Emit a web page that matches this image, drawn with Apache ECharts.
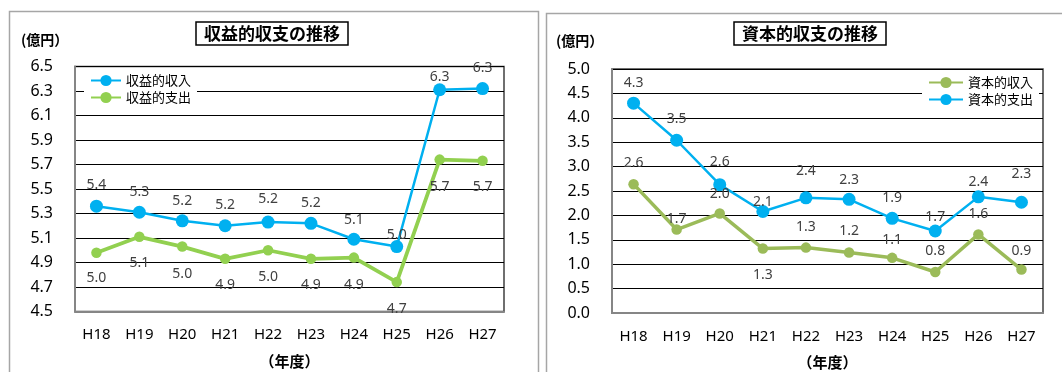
<!DOCTYPE html>
<html>
<head>
<meta charset="utf-8">
<script src="https://cdn.jsdelivr.net/npm/echarts@6/dist/echarts.min.js"></script>
<style>
html, body { margin: 0; padding: 0; background: #fff; }
#c { width: 1062px; height: 372px; }
</style>
</head>
<body>
<div id="c"></div>
<script>
// Fiscal years (category axis)
const years = ['H18', 'H19', 'H20', 'H21', 'H22', 'H23', 'H24', 'H25', 'H26', 'H27'];

// 収益的収支 (億円)
const revenueIncome  = [5.36, 5.31, 5.24, 5.20, 5.23, 5.22, 5.09, 5.03, 6.31, 6.32];
const revenueExpense = [4.98, 5.11, 5.03, 4.93, 5.00, 4.93, 4.94, 4.74, 5.74, 5.73];

// 資本的収支 (億円)
const capitalIncome  = [2.64, 1.71, 2.04, 1.32, 1.34, 1.24, 1.13, 0.84, 1.61, 0.89];
const capitalExpense = [4.30, 3.54, 2.63, 2.08, 2.36, 2.33, 1.94, 1.68, 2.38, 2.27];

// Value-axis ranges
const revenueAxis = { min: 4.5, max: 6.5, step: 0.2 };
const capitalAxis = { min: 0, max: 5, step: 0.5 };

// Vertical placement of each value label relative to its point (px, negative = above)
const revenueIncomeLabelDy  = [-21, -20, -20, -21, -23, -20, -19, -12, -13, -21];
const revenueExpenseLabelDy = [25, 26, 27, 26, 27, 26, 27, 27, 27, 26];
const capitalIncomeLabelDy  = [-21, -11, -19, 26, -21, -21, -18, -21, -20, -19];
const capitalExpenseLabelDy = [-20, -21, -23, -9, -27, -19, -20, -14, -15, -28];

const FONT = '"Noto Sans", "Noto Sans CJK JP", sans-serif';
const CJK = '"Noto Sans CJK JP", "Noto Sans", sans-serif';
const BLUE = '#00B0F0';
const LIME = '#92D050';
const OLIVE = '#9BBB59';

function lineSeries(name, values, dy, color, size, width, idx) {
  return {
    type: 'line',
    name: name,
    xAxisIndex: idx,
    yAxisIndex: idx,
    data: values.map((v, i) => ({ value: v, label: { offset: [0, dy[i]] } })),
    symbol: 'circle',
    symbolSize: size,
    lineStyle: { color: color, width: width },
    itemStyle: { color: color },
    label: {
      show: true,
      position: 'inside',
      formatter: p => Number(p.value).toFixed(1),
      fontSize: 14,
      fontFamily: FONT,
      color: '#404040',
      textBorderWidth: 0
    },
    emphasis: { disabled: true },
    animation: false
  };
}

function xAxis(idx) {
  return {
    type: 'category',
    gridIndex: idx,
    data: years,
    boundaryGap: true,
    axisLine: { lineStyle: { color: '#868686', width: 2 } },
    axisTick: { show: false },
    axisLabel: { fontSize: 15, color: '#000', margin: 16, fontFamily: FONT },
    name: '（年度）',
    nameLocation: 'middle',
    nameGap: 42,
    nameTextStyle: { fontSize: 15, fontWeight: 'bold', color: '#000', fontFamily: CJK }
  };
}

function yAxis(idx, range) {
  return {
    type: 'value',
    gridIndex: idx,
    min: range.min,
    max: range.max,
    interval: range.step,
    axisLine: { show: true, lineStyle: { color: '#868686', width: 2 } },
    axisTick: { show: false },
    splitLine: { show: true, lineStyle: { color: '#000', width: 1.2 } },
    axisLabel: {
      fontSize: 16, color: '#000', margin: 22, fontFamily: FONT,
      formatter: v => v.toFixed(1)
    }
  };
}

const titleStyle = { fontSize: 17, fontWeight: 'bold', color: '#000', fontFamily: CJK };

const option = {
  backgroundColor: '#fff',
  animation: false,
  title: [
    { text: '収益的収支の推移', left: 196, top: 22, padding: [3, 8], borderColor: '#000', borderWidth: 1.5, textStyle: titleStyle },
    { text: '資本的収支の推移', left: 734, top: 22, padding: [3, 8], borderColor: '#000', borderWidth: 1.5, textStyle: titleStyle }
  ],
  legend: [
    {
      left: 84, top: 70, orient: 'vertical',
      data: ['収益的収入', '収益的支出'],
      backgroundColor: '#fff', padding: [4, 6],
      itemWidth: 30, itemHeight: 14, itemGap: 4,
      textStyle: { fontSize: 13, color: '#000', fontFamily: CJK },
      selectedMode: false
    },
    {
      left: 922, top: 72, orient: 'vertical',
      data: ['資本的収入', '資本的支出'],
      backgroundColor: '#fff', padding: [4, 6],
      itemWidth: 34, itemHeight: 14, itemGap: 4,
      textStyle: { fontSize: 13, color: '#000', fontFamily: CJK },
      selectedMode: false
    }
  ],
  grid: [
    { left: 75, top: 66.5, width: 429, height: 245, show: true, borderColor: '#404040', borderWidth: 1.5, outerBoundsMode: 'none' },
    { left: 612, top: 69, width: 431, height: 244, show: true, borderColor: '#404040', borderWidth: 1.5, outerBoundsMode: 'none' }
  ],
  xAxis: [xAxis(0), xAxis(1)],
  yAxis: [yAxis(0, revenueAxis), yAxis(1, capitalAxis)],
  series: [
    lineSeries('収益的支出', revenueExpense, revenueExpenseLabelDy, LIME, 10.5, 3.8, 0),
    lineSeries('収益的収入', revenueIncome, revenueIncomeLabelDy, BLUE, 13, 2.5, 0),
    lineSeries('資本的収入', capitalIncome, capitalIncomeLabelDy, OLIVE, 10.5, 3.5, 1),
    lineSeries('資本的支出', capitalExpense, capitalExpenseLabelDy, BLUE, 13, 2.5, 1)
  ],
  graphic: [
    { type: 'rect', shape: { x: 9.5, y: 11.5, width: 529, height: 400 }, style: { fill: 'none', stroke: '#A6A6A6', lineWidth: 1.5 }, z: -10 },
    { type: 'rect', shape: { x: 546.5, y: 13.5, width: 530, height: 400 }, style: { fill: 'none', stroke: '#A6A6A6', lineWidth: 1.5 }, z: -10 },
    { type: 'text', left: 21, top: 33, style: { text: '(億円）', fill: '#000', font: 'bold 14px ' + CJK } },
    { type: 'text', left: 556, top: 34, style: { text: '(億円）', fill: '#000', font: 'bold 14px ' + CJK } }
  ]
};

const chart = echarts.init(document.getElementById('c'), null, { renderer: 'canvas' });
chart.setOption(option);
</script>
</body>
</html>
